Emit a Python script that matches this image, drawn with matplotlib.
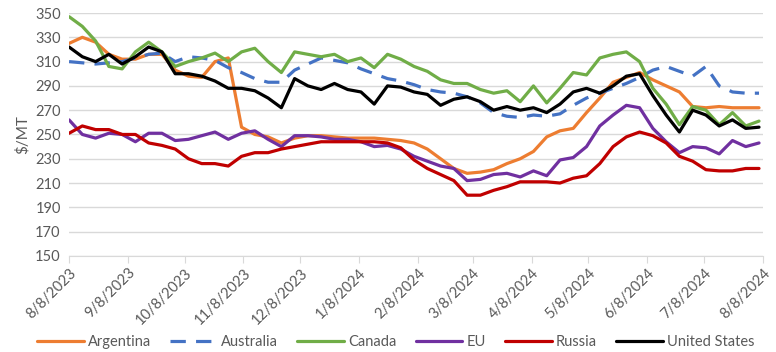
import numpy as np
import pandas as pd
import matplotlib
matplotlib.use("Agg")
import matplotlib.pyplot as plt

plt.rcParams['font.family'] = ['Lato', 'DejaVu Sans']

# weekly observations, 8/8/2023 onwards
dates = pd.date_range("2023-08-08", periods=53, freq="7D")

argentina = [325, 330, 326, 316, 312, 312, 316, 316, 303,
             298, 297, 310, 313, 256, 250, 248, 243, 247,
             249, 249, 248, 247, 247, 247, 246, 245, 243,
             238, 230, 222, 218, 219, 221, 226, 230,
             236, 248, 253, 255, 268, 280, 293, 297, 301,
             295, 290, 285, 273, 272, 273, 272, 272, 272]
australia = [310, 309, 308, 309, 310, 313, 316, 317, 310,
             314, 313, 311, 305, 301, 296, 293, 293, 303,
             308, 313, 311, 309, 304, 300, 296, 294, 291,
             287, 285, 284, 281, 276, 268, 265, 264,
             266, 265, 267, 274, 280, 284, 288, 292, 297,
             303, 306, 302, 298, 306, 290, 285, 284, 284]
canada = [347, 339, 327, 306, 304, 318, 326, 318, 306,
          310, 313, 317, 310, 318, 321, 310, 301, 318,
          316, 314, 316, 310, 313, 305, 316, 312, 306,
          302, 295, 292, 292, 287, 284, 286, 277,
          290, 276, 288, 301, 299, 313, 316, 318, 310,
          288, 275, 258, 273, 270, 258, 268, 257, 261]
eu = [262, 250, 247, 251, 250, 244, 251, 251, 245,
      246, 249, 252, 246, 251, 253, 246, 240, 249,
      249, 248, 246, 246, 244, 240, 241, 238, 232,
      228, 224, 222, 212, 213, 217, 218, 215,
      220, 216, 229, 231, 240, 257, 266, 274, 272,
      255, 244, 235, 240, 239, 234, 245, 240, 243]
russia = [251, 257, 254, 254, 250, 250, 243, 241, 238,
          230, 226, 226, 224, 232, 235, 235, 238, 240,
          242, 244, 244, 244, 244, 244, 243, 239, 229,
          222, 217, 212, 200, 200, 204, 207, 211,
          211, 211, 210, 214, 216, 226, 240, 248, 252,
          249, 243, 232, 228, 221, 220, 220, 222, 222]
united_states = [322, 314, 310, 316, 308, 314, 322, 318, 300,
                 300, 298, 294, 288, 288, 286, 280, 272, 296,
                 290, 287, 292, 287, 285, 275, 290, 289, 285,
                 283, 274, 279, 281, 277, 270, 273, 270,
                 272, 268, 275, 285, 288, 284, 290, 298, 300,
                 282, 266, 252, 270, 266, 257, 262, 255, 256]

series = [("Argentina", argentina, '#ED7D31', '-'),
          ("Australia", australia, '#4472C4', (0, (4.8, 3.2))),
          ("Canada", canada, '#70AD47', '-'),
          ("EU", eu, '#7030A0', '-'),
          ("Russia", russia, '#C00000', '-'),
          ("United States", united_states, '#000000', '-')]

fig = plt.figure(figsize=(7.76, 3.52), dpi=100)
ax = fig.add_axes([0.089, 0.273, 0.894, 0.69])

for name, vals, col, ls in series:
    ax.plot(dates, vals, color=col, linestyle=ls, lw=2.3, label=name,
            solid_joinstyle='round', solid_capstyle='round')

ax.set_ylim(150, 350)
ax.set_yticks(np.arange(150, 351, 20))
ax.set_xlim(pd.Timestamp("2023-08-08"), pd.Timestamp("2024-08-08"))
ticks = pd.date_range("2023-08-01", "2024-08-01", freq="MS") + pd.Timedelta(days=7)
ax.set_xticks(ticks)
ax.set_xticklabels([f"{d.month}/{d.day}/{d.year}" for d in ticks],
                   rotation=45, ha='right', rotation_mode='anchor')

ax.grid(axis='y', color='#D9D9D9', lw=1)
ax.set_axisbelow(True)
for s in ['top', 'right', 'left']:
    ax.spines[s].set_visible(False)
ax.spines['bottom'].set_color('#D9D9D9')
ax.tick_params(axis='y', length=0, labelsize=10.5, labelcolor='#595959', pad=6)
ax.tick_params(axis='x', length=5, color='#D9D9D9', labelsize=10.5,
               labelcolor='#595959', pad=2)
ax.set_ylabel("$/MT", fontsize=11, color='#595959', labelpad=4)

fig.legend(loc='lower center', bbox_to_anchor=(0.51, -0.03), ncol=6,
           frameon=False, fontsize=10.5, handlelength=3.2, columnspacing=1.3,
           handletextpad=0.3, labelcolor='#595959')

fig.savefig("out.png", dpi=100)
